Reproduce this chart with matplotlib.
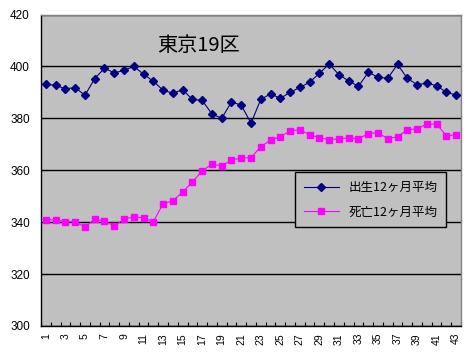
import matplotlib
matplotlib.use('Agg')
import matplotlib.pyplot as plt
from matplotlib.ticker import MultipleLocator

# 12ヶ月平均 (東京19区)
months = list(range(1, 44))
births = [393.1, 392.7, 391.4, 391.8, 388.9, 395.3, 399.3, 397.5, 398.5, 400.0,
          397.0, 394.3, 390.8, 389.7, 391.0, 387.3, 386.9, 381.7, 380.0, 386.3,
          385.1, 378.1, 387.3, 389.4, 387.7, 390.0, 391.9, 393.9, 397.3, 401.0,
          396.8, 394.4, 392.3, 397.7, 395.9, 395.4, 400.8, 395.4, 393.0, 393.5,
          392.6, 390.0, 389.0]
deaths = [340.9, 340.9, 340.2, 340.2, 338.1, 341.2, 340.4, 338.5, 341.2, 342.0,
          341.6, 340.2, 347.1, 348.2, 351.6, 355.5, 359.7, 362.4, 361.7, 363.9,
          364.8, 364.8, 369.1, 371.6, 372.9, 375.2, 375.6, 373.7, 372.5, 371.8,
          372.1, 372.5, 372.1, 374.1, 374.5, 372.1, 372.9, 375.6, 376.0, 377.8,
          377.8, 373.3, 373.7]
labels = ['出生12ヶ月平均', '死亡12ヶ月平均']
title = '東京19区'

jp = ['Noto Sans CJK JP', 'DejaVu Sans']
plt.rcParams['font.family'] = ['Liberation Sans', 'Noto Sans CJK JP']

fig = plt.figure(figsize=(4.67, 3.52), dpi=100)
ax = fig.add_axes([41/467, 26/352, 420/467, 311.5/352])
ax.set_facecolor('#C0C0C0')

ax.plot(months, births, color='#000080', lw=0.8, marker='D', ms=4.5,
        label=labels[0], zorder=3)
ax.plot(months, deaths, color='#FF00FF', lw=0.8, marker='s', ms=5,
        label=labels[1], zorder=3)

ax.set_xlim(0.5, 43.5)
ax.set_ylim(300, 420)
ax.yaxis.set_major_locator(MultipleLocator(20))
ax.grid(axis='y', color='black', lw=1)
ax.set_axisbelow(True)

ax.set_xticks(range(1, 44, 2))
ax.set_xticklabels([str(m) for m in range(1, 44, 2)], rotation=90, fontsize=7.5)
ax.set_xticks([m + 0.5 for m in range(0, 44)], minor=True)
ax.tick_params(axis='x', which='major', length=0, pad=5)
ax.tick_params(axis='x', which='minor', length=3, direction='in', width=0.8)
ax.tick_params(axis='y', length=0, pad=8, labelsize=8.5)

for s in ['top', 'right']:
    ax.spines[s].set_color('#808080')
    ax.spines[s].set_linewidth(1)
for s in ['left', 'bottom']:
    ax.spines[s].set_color('black')
    ax.spines[s].set_linewidth(1)

ax.text(0.374, 0.9, title, transform=ax.transAxes, ha='center', va='center',
        fontsize=14.5, family=jp)

leg = ax.legend(loc='center', bbox_to_anchor=(0.785, 0.405), prop={'family': jp, 'size': 9},
                fancybox=False, edgecolor='black', facecolor='#C0C0C0', framealpha=1,
                handlelength=2.8, labelspacing=0.9, borderpad=0.7)
leg.get_frame().set_linewidth(1)

fig.savefig('out.png', dpi=100)
